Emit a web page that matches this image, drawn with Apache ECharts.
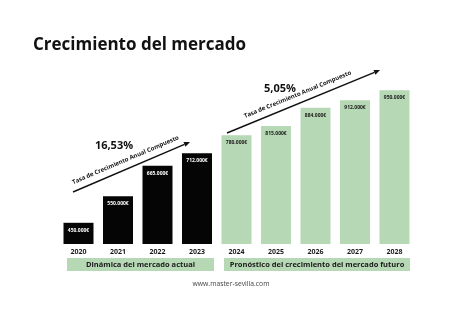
<!DOCTYPE html>
<html>
<head>
<meta charset="utf-8">
<script src="https://cdn.jsdelivr.net/npm/echarts@6/dist/echarts.min.js"></script>
<style>html,body{margin:0;padding:0;background:#fff;}#c{width:474px;height:312px;}</style>
</head>
<body>
<div id="c"></div>
<script>
const years = ['2020','2021','2022','2023','2024','2025','2026','2027','2028'];
const valuesK = [450, 550, 665, 712, 780, 815, 884, 912, 950];
const isForecast = [false, false, false, false, true, true, true, true, true];
const groupLabels = ['Dinámica del mercado actual', 'Pronóstico del crecimiento del mercado futuro'];
const cagrLabels = ['16,53%', '5,05%'];
const arrowText = 'Tasa de Crecimiento Anual Compuesto';

const BLACK = '#050505';
const GREEN = '#b7d8b5';
const FONT = '"Open Sans", "Noto Sans", sans-serif';

const chart = echarts.init(document.getElementById('c'), null, {renderer: 'canvas'});

const data = valuesK.map((v, i) => ({
  value: v,
  itemStyle: {color: isForecast[i] ? GREEN : BLACK},
  label: {color: isForecast[i] ? '#1a1a1a' : '#ffffff'}
}));

function arrow(x1, y1, x2, y2, pct, pctPos) {
  const ang = Math.atan2(y1 - y2, x2 - x1);
  const dx = Math.cos(ang), dy = -Math.sin(ang);
  const hl = 6, hw = 2.6;
  const bx = x2 - dx * hl, by = y2 - dy * hl;
  const nx = -dy, ny = dx;
  const mx = (x1 + x2) / 2, my = (y1 + y2) / 2;
  const off = 7.5;
  return [
    {type: 'line', shape: {x1: x1, y1: y1, x2: bx, y2: by}, style: {stroke: '#111', lineWidth: 1.4}},
    {type: 'polygon', shape: {points: [[x2, y2], [bx + nx * hw, by + ny * hw], [bx - nx * hw, by - ny * hw]]}, style: {fill: '#111'}},
    {type: 'text', x: mx - nx * off - 3, y: my - ny * off, rotation: ang,
      style: {text: arrowText, fill: '#111', font: 'bold 6px ' + FONT, align: 'center', verticalAlign: 'middle'}},
    {type: 'text', x: pctPos[0], y: pctPos[1],
      style: {text: pct, fill: '#111', font: 'bold 11px ' + FONT, align: 'center', verticalAlign: 'middle'}}
  ];
}

const graphics = [
  {type: 'text', left: 33, top: 37, style: {text: 'Crecimiento del mercado', fill: '#111', font: 'bold 17px ' + FONT}},
  {type: 'rect', shape: {x: 67, y: 258, width: 147, height: 13}, style: {fill: GREEN}},
  {type: 'text', x: 140.5, y: 264.5, style: {text: groupLabels[0], fill: '#1a1a1a', font: 'bold 7.5px ' + FONT, align: 'center', verticalAlign: 'middle'}},
  {type: 'rect', shape: {x: 224, y: 258, width: 186, height: 13}, style: {fill: GREEN}},
  {type: 'text', x: 317, y: 264.5, style: {text: groupLabels[1], fill: '#1a1a1a', font: 'bold 7.5px ' + FONT, align: 'center', verticalAlign: 'middle'}},
  {type: 'text', x: 231, y: 284, style: {text: 'www.master-sevilla.com', fill: '#444', font: '6.8px ' + FONT, align: 'center', verticalAlign: 'middle'}}
].concat(
  arrow(73, 192, 190, 142, cagrLabels[0], [114, 146]),
  arrow(227, 133, 380, 70, cagrLabels[1], [280, 89])
);

chart.setOption({
  animation: false,
  backgroundColor: '#ffffff',
  grid: {left: 58.75, right: 59.75, top: 77, bottom: 68, containLabel: false},
  xAxis: {
    type: 'category', data: years,
    axisLine: {show: false}, axisTick: {show: false},
    axisLabel: {color: '#1a1a1a', fontFamily: FONT, fontWeight: 'bold', fontSize: 7, margin: 4}
  },
  yAxis: {type: 'value', min: 370, max: 1000, show: false, splitLine: {show: false}},
  series: [{
    type: 'bar', data: data, barWidth: 30,
    label: {show: true, position: 'insideTop', distance: 5, fontFamily: FONT, fontWeight: 'bold', fontSize: 5,
      formatter: p => p.value + '.000€'}
  }],
  graphic: graphics
});
</script>
</body>
</html>
